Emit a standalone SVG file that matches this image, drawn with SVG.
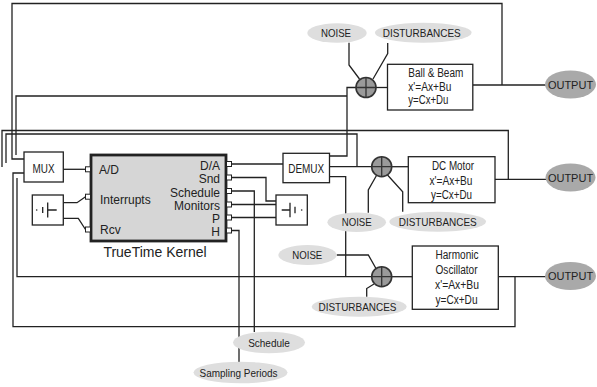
<svg xmlns="http://www.w3.org/2000/svg" width="597" height="387" viewBox="0 0 597 387">
<style>
.w{fill:none;stroke:#222;stroke-width:1.3}
.box{fill:#fff;stroke:#222;stroke-width:1.3}
.port{fill:#fff;stroke:#222;stroke-width:1}
.lbl{fill:#dedede}
.out{fill:#a9a9a9}
.sum{fill:#9a9a9a;stroke:#333;stroke-width:1.6}
.x{stroke:#333;stroke-width:1.3}
text{font-family:"Liberation Sans",Arial,sans-serif;fill:#222}
.t12{font-size:12px}
.t11{font-size:11.5px}
.o{font-size:11px}
.mid{text-anchor:middle}
.end{text-anchor:end}
</style>
<rect width="597" height="387" fill="#fff"/>
<g id="connectors">
  <path class="w" d="M473,85 H546"/>
  <path class="w" d="M502,85 V3.5 H12 V159 H24"/>
  <path class="w" d="M16,155 V96 H347"/>
  <path class="w" d="M329.5,156 H347 V87.5 H356"/>
  <path class="w" d="M376,87.5 H387.5"/>
  <path class="w" d="M349,42.7 V65 L359.5,79"/>
  <path class="w" d="M387.7,43 V53.5 L373,79"/>
  <path class="w" d="M232,164 H283"/>
  <path class="w" d="M329.5,166.7 H372"/>
  <path class="w" d="M6,163 V134 H357 V166.7"/>
  <path class="w" d="M2,167 V130.5 H508.3 V179.3"/>
  <path class="w" d="M495,179.3 H546"/>
  <path class="w" d="M391.7,166.7 H408.3"/>
  <path class="w" d="M368.3,212.7 V190 L376.5,175.5"/>
  <path class="w" d="M402.7,211.7 V191.7 L387.5,175"/>
  <path class="w" d="M329.5,176.7 H345.7 V276.7"/>
  <path class="w" d="M17,178 V276.7 H372"/>
  <path class="w" d="M391.7,276.7 H412.3"/>
  <path class="w" d="M498.3,276.7 H546"/>
  <path class="w" d="M515,276.7 V326.7 H13 V173 H24"/>
  <path class="w" d="M336.7,255 H368.3 L376,268.5"/>
  <path class="w" d="M366.7,296.7 V288.5 L374,284"/>
  <path class="w" d="M63.3,169.3 H85.5"/>
  <path class="w" d="M63.3,202.7 H77 L85.5,196.7"/>
  <path class="w" d="M63.3,218.3 H78.3 L85.5,229.5"/>
  <path class="w" d="M231.5,177.5 H266 V201 H276"/>
  <path class="w" d="M231.5,204.5 H276"/>
  <path class="w" d="M231.5,217.5 H276"/>
  <path class="w" d="M231.5,191 H254.3 V332"/>
  <path class="w" d="M231.5,230.5 H239 V362"/>
</g>
<g id="mux">
  <rect class="box" x="24" y="152" width="39.3" height="30"/>
  <text class="t12 mid" x="43.6" y="172.5" textLength="22" lengthAdjust="spacingAndGlyphs">MUX</text>
</g>
<g id="kernel">
  <rect x="91" y="155" width="135" height="86" fill="#d6d6d6" stroke="#222" stroke-width="2.8"/>
  <rect class="port" x="85.5" y="166.8" width="5" height="5"/>
  <rect class="port" x="85.5" y="194.2" width="5" height="5"/>
  <rect class="port" x="85.5" y="227" width="5" height="5"/>
  <rect class="port" x="226.5" y="161.5" width="5" height="5"/>
  <rect class="port" x="226.5" y="175" width="5" height="5"/>
  <rect class="port" x="226.5" y="188.5" width="5" height="5"/>
  <rect class="port" x="226.5" y="202" width="5" height="5"/>
  <rect class="port" x="226.5" y="215" width="5" height="5"/>
  <rect class="port" x="226.5" y="228" width="5" height="5"/>
  <text class="t12" x="99" y="174">A/D</text>
  <text class="t12" x="100" y="203.5">Interrupts</text>
  <text class="t12" x="100" y="233.5">Rcv</text>
  <text class="t12 end" x="220" y="169.5">D/A</text>
  <text class="t12 end" x="220" y="183">Snd</text>
  <text class="t12 end" x="220" y="196.5">Schedule</text>
  <text class="t12 end" x="220" y="210">Monitors</text>
  <text class="t12 end" x="220" y="223">P</text>
  <text class="t12 end" x="220" y="235.5">H</text>
  <text class="mid" x="155" y="257" font-size="14">TrueTime Kernel</text>
</g>
<g id="battery-left">
  <rect class="box" x="32.3" y="195" width="31" height="30"/>
  <circle cx="36.7" cy="210" r="0.8" fill="#222"/>
  <path class="w" d="M42.7,207 V213 M47.7,202.5 V217.5 M47.7,210 H56.7"/>
</g>
<g id="battery-right">
  <rect class="box" x="276" y="195" width="31.3" height="30"/>
  <circle cx="301.7" cy="210" r="0.8" fill="#222"/>
  <path class="w" d="M295,206.7 V213.3 M290,202.7 V217.3 M281.7,210 H290"/>
</g>
<g id="demux">
  <rect class="box" x="283" y="153.3" width="46.5" height="29.4"/>
  <text class="t12 mid" x="306.2" y="173.3" textLength="36" lengthAdjust="spacingAndGlyphs">DEMUX</text>
</g>
<g id="noise-bb">
  <ellipse class="lbl" cx="337" cy="33" rx="29.7" ry="9.8"/>
  <text class="t11 mid" x="336" y="37.2" textLength="30" lengthAdjust="spacingAndGlyphs">NOISE</text>
</g>
<g id="dist-bb">
  <ellipse class="lbl" cx="423.3" cy="32.7" rx="48.3" ry="10"/>
  <text class="t11 mid" x="421.7" y="37" textLength="78" lengthAdjust="spacingAndGlyphs">DISTURBANCES</text>
</g>
<g id="sum-bb">
  <circle class="sum" cx="366" cy="87.5" r="10"/>
  <path class="x" d="M356,87.5 H376 M366,77.5 V97.5"/>
</g>
<g id="ball-beam">
  <rect class="box" x="387.5" y="64.3" width="85.3" height="45.7"/>
  <text class="t12" x="408.3" y="77.3" textLength="55" lengthAdjust="spacingAndGlyphs">Ball &amp; Beam</text>
  <text class="t12" x="408.3" y="91" textLength="43" lengthAdjust="spacingAndGlyphs">x'=Ax+Bu</text>
  <text class="t12" x="408.3" y="104" textLength="40" lengthAdjust="spacingAndGlyphs">y=Cx+Du</text>
</g>
<g id="output-bb">
  <ellipse class="out" cx="570.5" cy="84.5" rx="25.5" ry="14"/>
  <text class="o mid" x="570.5" y="88.5">OUTPUT</text>
</g>
<g id="sum-dc">
  <circle class="sum" cx="381.7" cy="166.7" r="10"/>
  <path class="x" d="M371.7,166.7 H391.7 M381.7,156.7 V176.7"/>
</g>
<g id="dc-motor">
  <rect class="box" x="408.3" y="156.7" width="86.7" height="46"/>
  <text class="t12 mid" x="453" y="170" textLength="42" lengthAdjust="spacingAndGlyphs">DC Motor</text>
  <text class="t12 mid" x="451" y="185" textLength="43" lengthAdjust="spacingAndGlyphs">x'=Ax+Bu</text>
  <text class="t12 mid" x="451.5" y="199" textLength="41" lengthAdjust="spacingAndGlyphs">y=Cx+Du</text>
</g>
<g id="noise-dc">
  <ellipse class="lbl" cx="356.7" cy="222.2" rx="29.3" ry="9.7"/>
  <text class="t11 mid" x="356.7" y="226.4" textLength="30" lengthAdjust="spacingAndGlyphs">NOISE</text>
</g>
<g id="dist-dc">
  <ellipse class="lbl" cx="437.7" cy="221.7" rx="48.3" ry="10"/>
  <text class="t11 mid" x="437.7" y="225.9" textLength="78" lengthAdjust="spacingAndGlyphs">DISTURBANCES</text>
</g>
<g id="output-dc">
  <ellipse class="out" cx="570.5" cy="177.5" rx="25" ry="14"/>
  <text class="o mid" x="570.5" y="181.5">OUTPUT</text>
</g>
<g id="noise-ho">
  <ellipse class="lbl" cx="307.5" cy="255" rx="29.2" ry="10"/>
  <text class="t11 mid" x="307.3" y="259.2" textLength="30" lengthAdjust="spacingAndGlyphs">NOISE</text>
</g>
<g id="dist-ho">
  <ellipse class="lbl" cx="359.2" cy="306.7" rx="47.5" ry="10"/>
  <text class="t11 mid" x="357.5" y="310.9" textLength="78" lengthAdjust="spacingAndGlyphs">DISTURBANCES</text>
</g>
<g id="sum-ho">
  <circle class="sum" cx="381.7" cy="276.7" r="10"/>
  <path class="x" d="M371.7,276.7 H391.7 M381.7,266.7 V286.7"/>
</g>
<g id="harmonic-oscillator">
  <rect class="box" x="412.3" y="246" width="86" height="63.3"/>
  <text class="t12 mid" x="457" y="259.3" textLength="43" lengthAdjust="spacingAndGlyphs">Harmonic</text>
  <text class="t12 mid" x="456.5" y="274.3" textLength="42" lengthAdjust="spacingAndGlyphs">Oscillator</text>
  <text class="t12 mid" x="457" y="289.3" textLength="44" lengthAdjust="spacingAndGlyphs">x'=Ax+Bu</text>
  <text class="t12 mid" x="456.5" y="304" textLength="42" lengthAdjust="spacingAndGlyphs">y=Cx+Du</text>
</g>
<g id="output-ho">
  <ellipse class="out" cx="570.5" cy="276" rx="25.5" ry="14"/>
  <text class="o mid" x="570.5" y="280">OUTPUT</text>
</g>
<g id="schedule">
  <ellipse class="lbl" cx="269" cy="342.5" rx="36" ry="10.8"/>
  <text class="t11 mid" x="269" y="346.5" textLength="41.7" lengthAdjust="spacingAndGlyphs">Schedule</text>
</g>
<g id="sampling-periods">
  <ellipse class="lbl" cx="240.5" cy="372.5" rx="47" ry="10.8"/>
  <text class="t11 mid" x="238.5" y="376.7" textLength="78" lengthAdjust="spacingAndGlyphs">Sampling Periods</text>
</g>
</svg>
